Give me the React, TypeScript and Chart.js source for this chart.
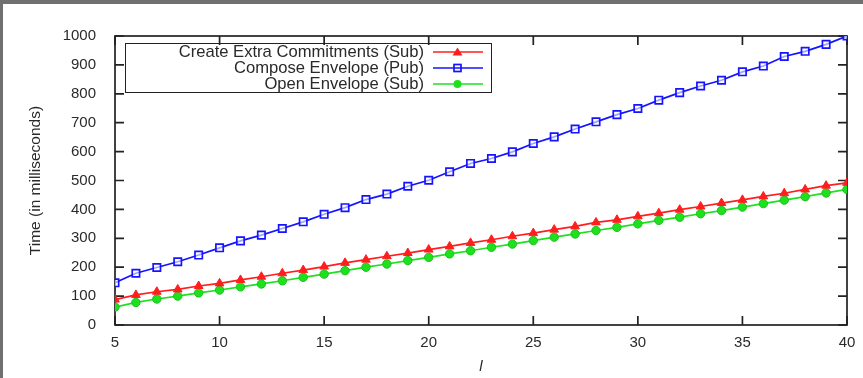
import React, { useEffect, useRef } from "react";
import { Chart, registerables } from "chart.js";

Chart.register(...registerables);

// ---- data ----
const lValues = [5, 6, 7, 8, 9, 10, 11, 12, 13, 14, 15, 16, 17, 18, 19, 20, 21, 22, 23, 24, 25, 26, 27, 28, 29, 30, 31, 32, 33, 34, 35, 36, 37, 38, 39, 40];
const createExtraSub = [88, 104, 115, 123, 135, 144, 156, 167, 179, 190, 202, 215, 226, 238, 249, 261, 272, 284, 295, 307, 318, 330, 341, 355, 364, 376, 387, 399, 410, 422, 433, 445, 456, 469, 482, 492];
const composeEnvelopePub = [146, 179, 199, 219, 242, 267, 291, 311, 334, 357, 383, 406, 434, 453, 480, 501, 530, 559, 576, 599, 628, 651, 678, 703, 728, 749, 778, 804, 827, 847, 876, 896, 929, 947, 971, 1000];
const openEnvelopeSub = [62, 78, 90, 100, 111, 121, 132, 142, 153, 165, 176, 188, 200, 211, 223, 234, 246, 257, 269, 280, 292, 304, 315, 327, 338, 350, 362, 373, 385, 396, 408, 420, 432, 444, 457, 469];
const seriesLabels = ["Create Extra Commitments (Sub)", "Compose Envelope (Pub)", "Open Envelope (Sub)"];
const xTicks = [5, 10, 15, 20, 25, 30, 35, 40];
const yTicks = [0, 100, 200, 300, 400, 500, 600, 700, 800, 900, 1000];
const xTitle = "l";
const yTitle = "Time (in milliseconds)";

const RED = "rgb(255,30,30)";
const BLUE = "rgb(20,20,255)";
const GREEN = "rgb(30,225,30)";
const FONT = "'Liberation Sans', Arial, Helvetica, sans-serif";
const TEXT = "#2a2a2a";

const framePlugin = {
  id: "gnuFrame",
  beforeDatasetsDraw(chart: any) {
    const { ctx, chartArea: a, scales } = chart;
    ctx.save();
    ctx.strokeStyle = "#222";
    ctx.lineWidth = 1.7;
    const L = 9;
    ctx.beginPath();
    for (const v of yTicks) {
      const y = scales.y.getPixelForValue(v);
      ctx.moveTo(a.left, y);
      ctx.lineTo(a.left + L, y);
      ctx.moveTo(a.right, y);
      ctx.lineTo(a.right - L, y);
    }
    for (const v of xTicks) {
      const x = scales.x.getPixelForValue(v);
      ctx.moveTo(x, a.bottom);
      ctx.lineTo(x, a.bottom - L);
      ctx.moveTo(x, a.top);
      ctx.lineTo(x, a.top + L);
    }
    ctx.stroke();
    ctx.strokeRect(a.left, a.top, a.right - a.left, a.bottom - a.top);
    ctx.restore();
  },
};

function LegendSample({ kind, color }: { kind: string; color: string }) {
  return (
    <svg width={50} height={12} style={{ display: "block" }}>
      <line x1={0} y1={6} x2={50} y2={6} stroke={color} strokeWidth={1.7} />
      {kind === "tri" && <polygon points="24.5,1.5 29.5,9.5 19.5,9.5" fill={color} />}
      {kind === "rect" && <rect x={21} y={2.5} width={7} height={7} fill="none" stroke={color} strokeWidth={1.7} />}
      {kind === "circ" && <circle cx={24.5} cy={6} r={4} fill={color} />}
    </svg>
  );
}

export default function App() {
  const canvasRef = useRef<HTMLCanvasElement | null>(null);

  useEffect(() => {
    const canvas = canvasRef.current;
    if (!canvas) return;
    const mk = (vals: number[]) => lValues.map((x, i) => ({ x, y: vals[i] }));
    const chart = new Chart(canvas, {
      type: "line",
      data: {
        datasets: [
          {
            label: seriesLabels[0],
            data: mk(createExtraSub),
            borderColor: RED,
            backgroundColor: RED,
            borderWidth: 1.7,
            pointStyle: "triangle",
            pointRadius: 5,
            pointBorderWidth: 1,
            pointBorderColor: RED,
            pointBackgroundColor: RED,
          },
          {
            label: seriesLabels[1],
            data: mk(composeEnvelopePub),
            borderColor: BLUE,
            backgroundColor: "rgba(0,0,0,0)",
            borderWidth: 1.7,
            pointStyle: "rect",
            pointRadius: 5.2,
            pointBorderWidth: 1.7,
            pointBorderColor: BLUE,
            pointBackgroundColor: "rgba(255,255,255,0.6)",
          },
          {
            label: seriesLabels[2],
            data: mk(openEnvelopeSub),
            borderColor: GREEN,
            backgroundColor: GREEN,
            borderWidth: 1.7,
            pointStyle: "circle",
            pointRadius: 4.2,
            pointBorderWidth: 1,
            pointBorderColor: "rgb(30,190,30)",
            pointBackgroundColor: GREEN,
          },
        ],
      },
      options: {
        responsive: false,
        animation: false,
        devicePixelRatio: 1,
        layout: { padding: { left: 0, top: 36, right: 16, bottom: 0 } },
        plugins: { legend: { display: false }, tooltip: { enabled: false } },
        scales: {
          x: {
            type: "linear",
            min: 5,
            max: 40,
            afterBuildTicks: (s: any) => {
              s.ticks = xTicks.map((v) => ({ value: v }));
            },
            afterFit: (s: any) => {
              s.height = 53;
            },
            grid: { display: false },
            border: { display: false },
            ticks: {
              color: TEXT,
              font: { family: FONT, size: 15 },
              padding: 1,
              maxRotation: 0,
              callback: (v: any) => String(v),
            },
            title: {
              display: true,
              text: xTitle,
              color: TEXT,
              font: { family: FONT, size: 15, style: "italic" },
              padding: { top: 0, bottom: 2 },
            },
          },
          y: {
            type: "linear",
            min: 0,
            max: 1000,
            afterBuildTicks: (s: any) => {
              s.ticks = yTicks.map((v) => ({ value: v }));
            },
            afterFit: (s: any) => {
              s.width = 115;
            },
            grid: { display: false },
            border: { display: false },
            ticks: {
              color: TEXT,
              font: { family: FONT, size: 15 },
              padding: 11,
              callback: (v: any) => String(v),
            },
            title: {
              display: true,
              text: yTitle,
              color: TEXT,
              font: { family: FONT, size: 15.5 },
              padding: { top: 26, bottom: 0 },
            },
          },
        },
      },
      plugins: [framePlugin],
    });
    return () => chart.destroy();
  }, []);

  const rows = [
    { label: seriesLabels[0], kind: "tri", color: RED, cy: 51.5 },
    { label: seriesLabels[1], kind: "rect", color: BLUE, cy: 67.5 },
    { label: seriesLabels[2], kind: "circ", color: GREEN, cy: 83.5 },
  ];

  return (
    <div style={{ position: "fixed", left: 0, top: 0, width: 863, height: 378, background: "#fff", overflow: "hidden" }}>
      <canvas ref={canvasRef} width={863} height={378} style={{ position: "absolute", left: 0, top: 0, width: 863, height: 378 }} />
      <div style={{ position: "absolute", left: 0, top: 0, width: 863, height: 4, background: "#707070" }} />
      <div style={{ position: "absolute", left: 0, top: 0, width: 3, height: 378, background: "#707070" }} />
      <div
        style={{
          position: "absolute",
          left: 125,
          top: 43,
          width: 367,
          height: 50,
          border: "1.7px solid #222",
          boxSizing: "border-box",
        }}
      />
      {rows.map((r) => (
        <React.Fragment key={r.label}>
          <div
            style={{
              position: "absolute",
              right: 863 - 424,
              top: r.cy - 9,
              height: 18,
              lineHeight: "18px",
              fontFamily: FONT,
              fontSize: 16.6,
              color: TEXT,
              whiteSpace: "nowrap",
              textAlign: "right",
            }}
          >
            {r.label}
          </div>
          <div style={{ position: "absolute", left: 433, top: r.cy - 6 }}>
            <LegendSample kind={r.kind} color={r.color} />
          </div>
        </React.Fragment>
      ))}
    </div>
  );
}
